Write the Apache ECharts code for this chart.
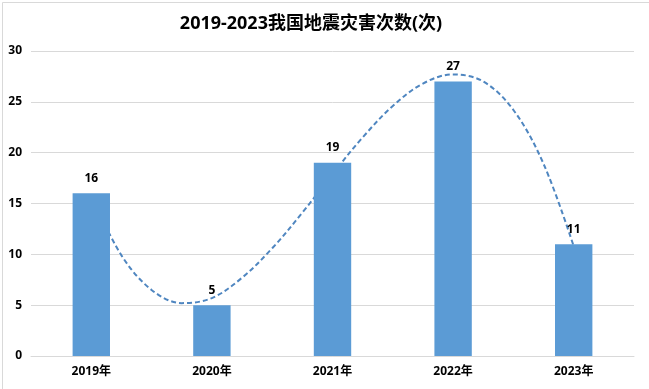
<!DOCTYPE html>
<html><head><meta charset="utf-8">
<script src="https://cdn.jsdelivr.net/npm/echarts@6/dist/echarts.min.js"></script>
<style>html,body{margin:0;padding:0;background:#fff}#c{width:649px;height:389px}</style>
</head><body><div id="c"></div>
<script>
var titleText = '2019-2023我国地震灾害次数(次)';
var categories = ['2019年','2020年','2021年','2022年','2023年'];
var counts = [16, 5, 19, 27, 11];
var yTicks = [0, 5, 10, 15, 20, 25, 30];
// dashed trend curve (x in category positions 1..5)
var trendX = [1, 1.25, 1.5, 1.75, 2, 2.25, 2.5, 2.75, 3, 3.25, 3.5, 3.75, 4, 4.25, 4.5, 4.75, 5];
var trendY = [15.8, 9.9, 6.5, 5.2, 5.7, 7.7, 10.6, 14.1, 17.9, 21.5, 24.6, 26.8, 27.7, 27.0, 24.2, 18.9, 10.8];

var FONT = 'Noto Sans, Noto Sans CJK SC, sans-serif';
var chart = echarts.init(document.getElementById('c'), null, {renderer: 'canvas'});
chart.setOption({
  animation: false,
  backgroundColor: '#fff',
  title: {text: titleText, left: 306, top: 10, textAlign: 'center',
    textStyle: {fontFamily: FONT, fontSize: 18, fontWeight: 'bold', color: '#000'}},
  graphic: [{type: 'rect', left: 0, top: 0, shape: {x: 0.5, y: 0.5, width: 647, height: 387},
    style: {fill: 'none', stroke: '#d9d9d9', lineWidth: 1}, silent: true}],
  grid: {left: 31, right: 15, top: 51, bottom: 33, containLabel: false},
  xAxis: [
    {type: 'category', data: categories, boundaryGap: true,
     axisLine: {show: true, lineStyle: {color: '#d9d9d9'}}, axisTick: {show: false},
     axisLabel: {fontFamily: FONT, fontSize: 12, fontWeight: 'bold', color: '#000', margin: 10}},
    {type: 'value', min: 0.5, max: 5.5, show: false}
  ],
  yAxis: {type: 'value', min: yTicks[0], max: yTicks[yTicks.length - 1], interval: 5,
    axisLine: {show: false}, axisTick: {show: false},
    splitLine: {lineStyle: {color: '#d9d9d9'}},
    axisLabel: {fontFamily: FONT, fontSize: 12, fontWeight: 'bold', color: '#000', margin: 9}},
  series: [
    {type: 'line', xAxisIndex: 1, data: trendX.map(function (x, i) { return [x, trendY[i]]; }),
     smooth: 0.35, symbol: 'none', z: 2,
     lineStyle: {color: '#4f86c0', width: 2, type: [5, 3]}},
    {type: 'bar', xAxisIndex: 0, data: counts, barWidth: '31%', z: 3,
     itemStyle: {color: '#5b9bd5'},
     label: {show: true, position: 'top', distance: 9, fontFamily: FONT, fontSize: 12,
       fontWeight: 'bold', color: '#000'}}
  ]
});
</script></body></html>
